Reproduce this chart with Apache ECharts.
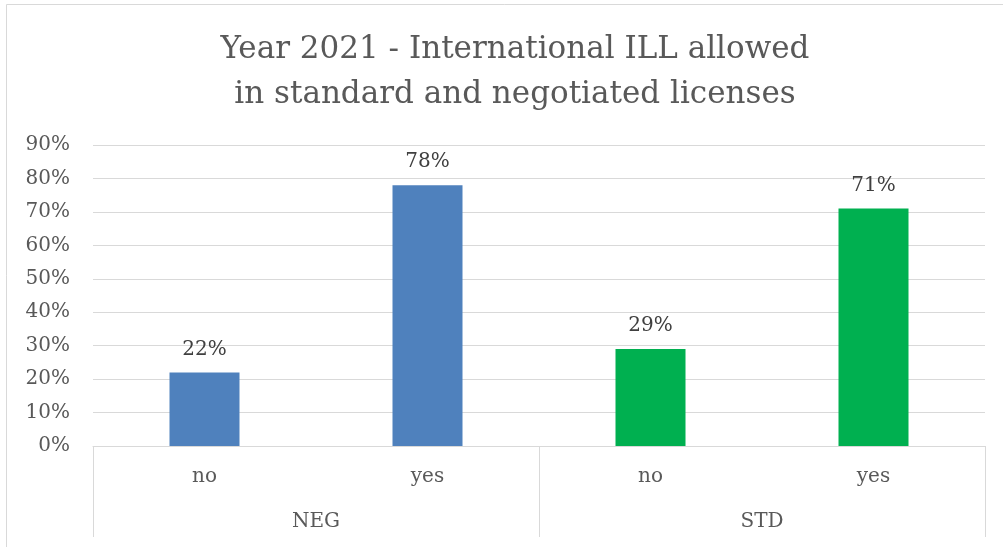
<!DOCTYPE html>
<html><head><meta charset="utf-8">
<script src="https://cdn.jsdelivr.net/npm/echarts@6/dist/echarts.min.js"></script>
<style>html,body{margin:0;padding:0;background:#fff}#c{width:1003px;height:547px}</style>
</head><body><div id="c"></div>
<script>
const titleLines = ['Year 2021 - International ILL allowed', 'in standard and negotiated licenses'];
const subCategories = ['no', 'yes', 'no', 'yes'];
const groups = ['NEG', 'STD'];
const values = [22, 78, 29, 71];
const barColors = ['#4F81BD', '#4F81BD', '#00B050', '#00B050'];
const yTicks = [0, 10, 20, 30, 40, 50, 60, 70, 80, 90];

const FONT = 'DejaVu Serif';
const chart = echarts.init(document.getElementById('c'));
chart.setOption({
  animation: false,
  backgroundColor: '#fff',
  graphic: [
    {type: 'line', shape: {x1: 6.5, y1: 4.5, x2: 1003, y2: 4.5}, style: {stroke: '#d9d9d9', lineWidth: 1}, silent: true},
    {type: 'line', shape: {x1: 6.5, y1: 4.5, x2: 6.5, y2: 547}, style: {stroke: '#d9d9d9', lineWidth: 1}, silent: true}
  ],
  title: {
    text: titleLines.join('\n'), left: 510, top: 22, textAlign: 'center',
    textStyle: {fontFamily: FONT, fontSize: 31, fontWeight: 'normal', color: '#595959', lineHeight: 45}
  },
  grid: {left: 93, right: 18, top: 145, bottom: 101},
  xAxis: [
    {type: 'category', data: subCategories, position: 'bottom',
     axisLine: {show: true, lineStyle: {color: '#d9d9d9', width: 1}},
     axisTick: {show: false},
     axisLabel: {margin: 21, fontFamily: FONT, fontSize: 20, color: '#595959'}},
    {type: 'category', data: groups, position: 'bottom', offset: 0,
     axisLine: {show: false},
     axisTick: {show: true, length: 91, lineStyle: {color: '#d9d9d9', width: 1}},
     axisLabel: {margin: 66, fontFamily: FONT, fontSize: 20, color: '#595959'}}
  ],
  yAxis: {type: 'value', min: 0, max: 90, interval: 10,
    axisLine: {show: false}, axisTick: {show: false},
    splitLine: {lineStyle: {color: '#d9d9d9', width: 1}},
    axisLabel: {formatter: '{value}%', margin: 23, fontFamily: FONT, fontSize: 20, color: '#595959'}},
  series: [{
    type: 'bar', xAxisIndex: 0, barWidth: 70,
    data: values.map((v, i) => ({value: v, itemStyle: {color: barColors[i]}})),
    label: {show: true, position: 'top', distance: 13, formatter: '{c}%', fontFamily: FONT, fontSize: 20, color: '#404040'}
  }]
});
</script></body></html>
